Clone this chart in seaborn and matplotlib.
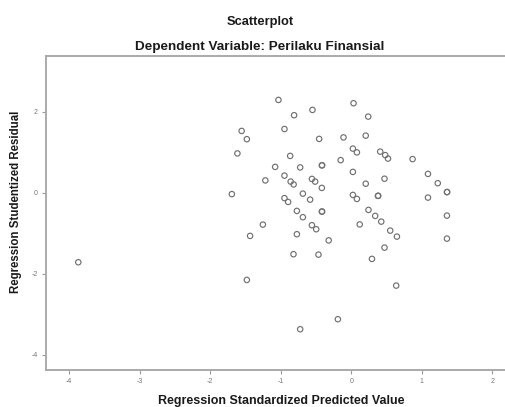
import matplotlib
matplotlib.use("Agg")
import matplotlib.pyplot as plt
import seaborn as sns
import pandas as pd

predicted = [-1.031, 0.033, -0.549, -0.809, 0.241, -0.946, -1.553, -1.479, -0.454, -0.109,
             0.206, -1.613, 0.024, 0.081, 0.411, 0.482, 0.522, -0.865, -0.149, 0.870,
             -1.078, -0.723, -0.416, 0.024, 1.088, -0.946, -1.217, -0.858, -0.816, -0.557,
             -0.511, -0.416, 0.206, 0.472, 1.227, 1.357, -1.692, -0.685, -0.582, -0.946,
             -0.894, 0.024, 0.081, 0.379, 1.088, -0.770, -0.685, -0.416, 0.245, 0.340,
             0.426, 1.357, -1.252, -0.557, -0.496, 0.121, 0.553, 0.648, -1.433, -0.770,
             -0.319, 1.357, 0.472, -0.818, -0.464, 0.294, -3.868, -1.479, 0.638, -0.189,
             -0.723, 1.360, 0.383, -0.412, -0.412]
residual = [2.289, 2.207, 2.042, 1.911, 1.877, 1.570, 1.523, 1.319, 1.326, 1.363,
            1.407, 0.968, 1.086, 0.993, 1.012, 0.926, 0.840, 0.906, 0.802, 0.827,
            0.635, 0.622, 0.672, 0.511, 0.462, 0.420, 0.301, 0.272, 0.202, 0.338,
            0.272, 0.116, 0.220, 0.343, 0.232, 0.012, -0.037, -0.025, -0.173, -0.136,
            -0.230, -0.057, -0.156, -0.081, -0.123, -0.452, -0.607, -0.469, -0.427, -0.575,
            -0.716, -0.568, -0.790, -0.805, -0.904, -0.785, -0.938, -1.086, -1.069, -1.027,
            -1.180, -1.136, -1.358, -1.521, -1.531, -1.637, -1.719, -2.156, -2.296, -3.126,
            -3.373, 0.015, -0.078, 0.675, -0.466]

xticks = [-4, -3, -2, -1, 0, 1, 2]
yticks = [-4, -2, 0, 2]

df = pd.DataFrame({"pred": predicted, "resid": residual})

sns.set_style("white")
plt.rcParams['font.family'] = ['Liberation Sans', 'DejaVu Sans']

fig = plt.figure(figsize=(5.05, 4.07), dpi=100)
ax = fig.add_axes([0.0905, 0.0909, 0.9095, 0.7722])

sns.scatterplot(data=df, x="pred", y="resid", ax=ax, s=15, marker="o",
                facecolors="none", edgecolor="#707070", linewidth=0.85)

ax.set_xlim(-4.33, 2.18)
ax.set_ylim(-4.38, 3.38)
ax.set_xticks(xticks)
ax.set_yticks(yticks)
ax.set_xticklabels([str(t) for t in xticks])
ax.set_yticklabels([str(t) for t in yticks])
ax.tick_params(axis="both", direction="out", length=3, width=0.8, color="#999999",
               labelsize=5, labelcolor="#777777", pad=2.5, left=True, bottom=True)
for side in ["left", "bottom", "top"]:
    ax.spines[side].set_color("#aaaaaa")
    ax.spines[side].set_linewidth(1.4)
ax.spines["right"].set_visible(False)

ax.set_xlabel("Regression Standardized Predicted Value", fontsize=9,
              fontweight="bold", color="#1a1a1a", va="center")
ax.set_ylabel("Regression Studentized Residual", fontsize=8.3,
              fontweight="bold", color="#1a1a1a")
ax.xaxis.set_label_coords(0.513, -0.1)
ax.yaxis.set_label_coords(-0.052, 0.535)

fig.text(0.515, 0.947, "Scatterplot", ha="center", va="center", fontsize=9.3,
         fontweight="bold", color="#1a1a1a")
fig.text(0.515, 0.885, "Dependent Variable: Perilaku Finansial", ha="center",
         va="center", fontsize=9.7, fontweight="bold", color="#1a1a1a")

fig.savefig("out.png", dpi=100)
